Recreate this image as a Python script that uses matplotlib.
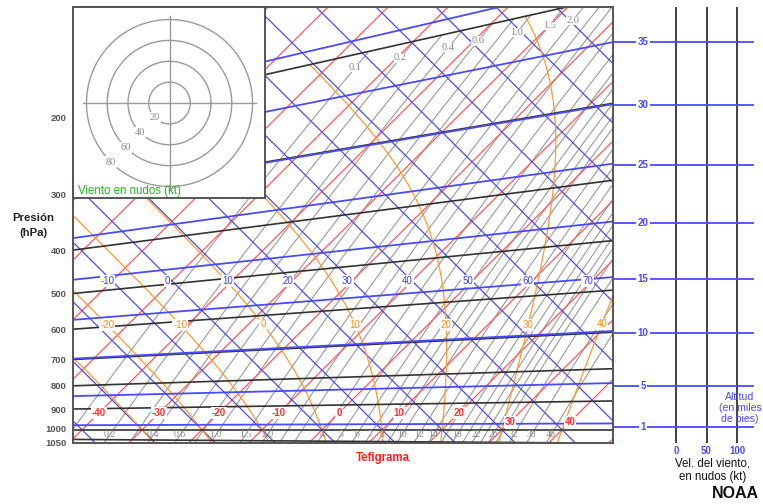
import numpy as np
import matplotlib
matplotlib.use("Agg")
import matplotlib.pyplot as plt

plt.rcParams['font.family'] = ['Liberation Sans', 'DejaVu Sans']

# ---- chart values ----
isobars_hpa = [200, 300, 400, 500, 600, 700, 800, 900, 1000, 1050]
isotherms_c = [-110, -100, -90, -80, -70, -60, -50, -40, -30, -20, -10, 0, 10, 20, 30, 40, 50]
isotherm_labels = [-40, -30, -20, -10, 0, 10, 20, 30, 40]
dry_adiabats_c = [-40, -30, -20, -10, 0, 10, 20, 30, 40, 50, 60, 70, 80, 90, 100, 110]
dry_adiabat_labels = [-10, 0, 10, 20, 30, 40, 50, 60, 70]
sat_adiabats_c = [-30, -20, -10, 0, 10, 20, 30, 40]
sat_adiabat_labels = [-20, -10, 0, 10, 20, 30, 40]
mixing_ratios = [0.1, 0.2, 0.3, 0.4, 0.6, 0.8, 1.0, 1.5, 2.0, 2.5, 3, 4, 5, 6, 7, 8, 9,
                 10, 12, 14, 16, 18, 20, 22, 24, 26, 28, 32, 38, 46]
mixing_labels_bottom = [0.1, 0.2, 0.4, 0.6, 1.0, 1.5, 2.0, 4, 5, 6, 7, 8, 10, 12, 14,
                        18, 22, 26, 32, 38, 46]
mixing_labels_top = [0.1, 0.2, 0.4, 0.6, 1.0, 1.5, 2.0]
altitude_kft = [1, 5, 10, 15, 20, 25, 30, 35, 40]
altitude_hpa = [977, 843, 697, 572, 466, 376, 301, 238, 188]
wind_ticks = [0, 50, 100]
hodo_rings = [20, 40, 60, 80]

K0 = 273.15
KAPPA = 0.286
LV, CP = 2.501e6, 1005.7

RED = '#ff5a5a'
BLUE = '#4d4de6'
ALT_BLUE = '#4a4aff'
ORANGE = '#ff9a30'
GRAY = '#9a9a9a'
BLACK = '#333333'


def xy(T, th):
    # tephigram: isotherms and dry adiabats turned 45 degrees
    return np.asarray(T) + np.asarray(th), np.asarray(th) - np.asarray(T)


def theta(T, p):
    return (np.asarray(T) + K0) * (1000.0 / np.asarray(p)) ** KAPPA - K0


def isobar_y_at(x, p):
    f = (1000.0 / p) ** KAPPA
    tk = (x + 2 * K0) / (1 + f)
    return tk * (f - 1)


def es(T):
    return 6.112 * np.exp(17.67 * T / (T + 243.5))


def dewpoint_from_w(w, p):
    e = w * p / (622.0 + w)
    l = np.log(e / 6.112)
    return 243.5 * l / (17.67 - l)


def theta_e(T, p):
    e = es(T)
    rs = 0.622 * e / (p - e)
    return (theta(T, p) + K0) * np.exp(LV * rs / (CP * (T + K0)))


def sat_adiabat(tw, p):
    # temperature along the curve of constant theta_e that starts at tw, 1000 hPa
    target = theta_e(tw, 1000.0)
    lo = np.full_like(p, -130.0)
    hi = np.full_like(p, 60.0)
    for _ in range(60):
        mid = 0.5 * (lo + hi)
        warm = theta_e(mid, p) > target
        hi = np.where(warm, mid, hi)
        lo = np.where(warm, lo, mid)
    return 0.5 * (lo + hi)


W, H = 763, 504
fig = plt.figure(figsize=(W / 100, H / 100), dpi=100)

# main tephigram box (pixels 73..613 x 7..443)
ax = fig.add_axes([73 / W, (H - 443) / H, 540 / W, 436 / H])
XMIN, XMAX, YMIN, YMAX = -83, 97, -10 / 3, 142
ax.set_xlim(XMIN, XMAX)
ax.set_ylim(YMIN, YMAX)

lbl_box = dict(facecolor='white', edgecolor='none', pad=0.6)

# mixing ratio lines
p_mix = np.linspace(1060, 200, 200)
for w in mixing_ratios:
    Td = dewpoint_from_w(w, p_mix)
    ax.plot(*xy(Td, theta(Td, p_mix)), color=GRAY, lw=0.8, zorder=1)


def fmt_w(w):
    return f"{w:.1f}" if w < 3 else f"{int(w)}"


for w in mixing_labels_bottom:
    Td = dewpoint_from_w(w, p_mix)
    x, y = xy(Td, theta(Td, p_mix))
    i = np.argmin(np.abs(y - (-1.7)))
    ax.text(x[i], -1.7, fmt_w(w), color='#8a8a8a', fontsize=7, ha='center', va='center',
            family='Liberation Serif', zorder=6, clip_on=True)
for w in mixing_labels_top:
    Td = dewpoint_from_w(w, 212.0)
    x, y = xy(Td, theta(Td, 212.0))
    ax.text(x, y, fmt_w(w), color='#8a8a8a', fontsize=7.5, ha='center', va='center',
            family='Liberation Serif', zorder=6, bbox=dict(facecolor='white', edgecolor='none', pad=0.2))

# isotherms
for T in isotherms_c:
    ax.plot(*xy([T, T], [-200, 250]), color=RED, lw=0.9, zorder=2)
for T in isotherm_labels:
    row = 5.67 if T <= 20 else 2.67
    ax.text(T + T + row, row, str(T), color='#ff3030', fontsize=7, fontweight='bold',
            ha='center', va='center', bbox=lbl_box, zorder=7)

# dry adiabats
for th in dry_adiabats_c:
    ax.plot(*xy([-250, 200], [th, th]), color=BLUE, lw=0.9, zorder=2)
for th in dry_adiabat_labels:
    ax.text(2 * th - 51.5, 50, str(th), color='#4040e0', fontsize=7,
            ha='center', va='center', bbox=lbl_box, zorder=7)

# saturated adiabats
p_sat = np.linspace(1060, 200, 400)
for tw in sat_adiabats_c:
    T = sat_adiabat(tw, p_sat)
    x, y = xy(T, theta(T, p_sat))
    ax.plot(x, y, color=ORANGE, lw=0.9, zorder=3)
    if tw in sat_adiabat_labels:
        i = np.argmin(np.abs(y - 35.3))
        ax.text(x[i], y[i], str(tw), color='#ff8c1a', fontsize=7, ha='center', va='center',
                bbox=lbl_box, zorder=7)

# isobars
T_grid = np.linspace(-140, 70, 300)
for p in isobars_hpa:
    ax.plot(*xy(T_grid, theta(T_grid, p)), color=BLACK, lw=1.2, zorder=4)

# altitude lines (standard atmosphere isobars)
for p in altitude_hpa:
    ax.plot(*xy(T_grid, theta(T_grid, p)), color=ALT_BLUE, lw=1.3, zorder=4)

ax.set_xticks([])
tick_y = [isobar_y_at(XMIN, p) for p in isobars_hpa]
tick_y[-2] += 0.4
tick_y[-1] -= 1.2
ax.set_yticks(tick_y)
ax.set_yticklabels([str(p) for p in isobars_hpa], color='#555555', fontsize=6.8, fontweight='bold')
ax.tick_params(axis='y', length=0, pad=4.5)
for s in ax.spines.values():
    s.set_color('#555555')
    s.set_linewidth(1.4)
    s.set_zorder(8)

# hodograph inset
axh = fig.add_axes([73 / W, (H - 198) / H, 192 / W, 191 / H])
axh.set_zorder(3)
axh.set_facecolor('white')
axh.set_xlim(-93, 92)
axh.set_ylim(-91, 92)
t = np.linspace(0, 2 * np.pi, 300)
for r in hodo_rings:
    axh.plot(r * np.cos(t), r * np.sin(t), color='#9a9a9a', lw=1.0)
    a = np.deg2rad(225)
    axh.text(r * np.cos(a), r * np.sin(a), str(r), color='#8a8a8a', fontsize=7.5,
             family='Liberation Serif', ha='center', va='center',
             bbox=dict(facecolor='white', edgecolor='none', pad=0.8))
axh.plot([-83, 83], [0, 0], color='#9a9a9a', lw=1.0)
axh.plot([0, 0], [-82, 83], color='#9a9a9a', lw=1.0)
axh.text(0.025, 0.035, "Viento en nudos (kt)", transform=axh.transAxes, color='#22b422',
         fontsize=8.3, ha='left', va='center')
axh.set_xticks([])
axh.set_yticks([])
for s in axh.spines.values():
    s.set_color('#555555')
    s.set_linewidth(1.4)

# right panel: wind speed and altitude
axr = fig.add_axes([613 / W, (H - 443) / H, 150 / W, 436 / H])
KT_MIN = -103.3
axr.set_xlim(KT_MIN, KT_MIN + 150 / 0.61)
axr.set_ylim(YMIN, YMAX)
for k in wind_ticks:
    axr.axvline(k, color=BLACK, lw=1.3)
for kft, p in zip(altitude_kft, altitude_hpa):
    y = isobar_y_at(XMAX, p)
    if y > YMAX:
        continue
    axr.plot([KT_MIN, 126], [y, y], color=ALT_BLUE, lw=1.3)
    axr.text(-54, y, str(kft), color=ALT_BLUE, fontsize=7, fontweight='bold',
             ha='center', va='center', bbox=dict(facecolor='white', edgecolor='none', pad=1.2))
axr.set_xticks(wind_ticks)
axr.set_xticklabels([str(k) for k in wind_ticks], color=ALT_BLUE, fontsize=7, fontweight='bold')
axr.tick_params(axis='x', length=0, pad=2)
axr.set_yticks([])
for s in axr.spines.values():
    s.set_visible(False)
axr.patch.set_alpha(0)

# texts
fig.text(33 / W, 1 - 218 / H, "Presión", ha='center', va='center', fontsize=8.2,
         fontweight='bold', color='#222222')
fig.text(33 / W, 1 - 233 / H, "(hPa)", ha='center', va='center', fontsize=8.2,
         fontweight='bold', color='#222222')
fig.text(383 / W, 1 - 458 / H, "Tefigrama", ha='center', va='center', fontsize=8.3,
         fontweight='bold', color='#ff2020')
fig.text(713 / W, 1 - 470 / H, "Vel. del viento,\nen nudos (kt)", ha='center', va='center',
         fontsize=8.3, color='#111111', linespacing=1.15)
fig.text(735 / W, 1 - 493 / H, "NOAA", ha='center', va='center', fontsize=11.5,
         fontweight='bold', color='#111111')
fig.text(740 / W, 1 - 408 / H, "Altitud\n(en miles\nde pies)", ha='center', va='center',
         fontsize=7.6, color=ALT_BLUE, linespacing=1.1)

fig.savefig("out.png", dpi=100)
